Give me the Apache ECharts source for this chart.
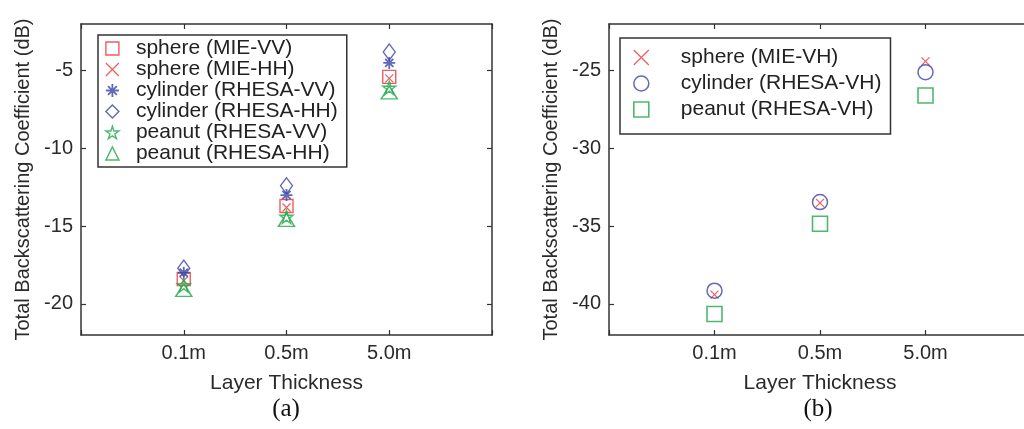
<!DOCTYPE html>
<html><head><meta charset="utf-8">
<script src="https://cdn.jsdelivr.net/npm/echarts@6/dist/echarts.min.js"></script>
<style>html,body{margin:0;padding:0;background:#fff}#c{width:1024px;height:429px}</style>
</head><body><div id="c"></div>
<script>
// ---- data ----
const categories = ['0.1m', '0.5m', '5.0m'];
const yTicksA = [-20, -15, -10, -5];
const yTicksB = [-40, -35, -30, -25];
const sphereVV   = [-18.4, -13.7, -5.4];
const sphereHH   = [-18.5, -13.8, -5.5];
const cylinderVV = [-18.0, -13.0, -4.5];
const cylinderHH = [-17.7, -12.4, -3.8];
const peanutVV   = [-18.8, -14.4, -6.1];
const peanutHH   = [-19.1, -14.6, -6.4];
const sphereVH   = [-39.4, -33.5, -24.4];
const cylinderVH = [-39.15, -33.45, -25.1];
const peanutVH   = [-40.65, -34.85, -26.6];

const RED = '#e6353b', BLUE = '#3a44a6', GREEN = '#1fa84a';
const SYM = {
  x: 'path://M0,0L10,10M10,0L0,10',
  ast: 'path://M5,0L5,10M0,5L10,5M1.6,1.6L8.4,8.4M8.4,1.6L1.6,8.4',
  star: 'path://M50,0L61.23,34.55L97.55,34.55L68.16,55.9L79.39,90.45L50,69.1L20.61,90.45L31.84,55.9L2.45,34.55L38.77,34.55Z'
};
const FONT = 'Liberation Sans, Arial, sans-serif';
const TXT = '#2a2a2a';

function toPts(arr) { return arr.map((v, i) => [i + 1, v]); }
function style(c, w) { return { color: 'rgba(0,0,0,0)', borderColor: c, borderWidth: w }; }
function ser(name, arr, idx, symbol, size, c, w) {
  return { type: 'scatter', name, xAxisIndex: idx, yAxisIndex: idx, data: toPts(arr),
    symbol, symbolSize: size, itemStyle: style(c, w), emphasis: { disabled: true } };
}
const left = [
  ['sphere (MIE-VV)', sphereVV, 'rect', 13, RED, 1.4],
  ['sphere (MIE-HH)', sphereHH, SYM.x, 8, RED, 1.2],
  ['cylinder (RHESA-VV)', cylinderVV, SYM.ast, 12, BLUE, 1.8],
  ['cylinder (RHESA-HH)', cylinderHH, 'diamond', [12, 16], BLUE, 1.4],
  ['peanut (RHESA-VV)', peanutVV, SYM.star, 13, GREEN, 1.4],
  ['peanut (RHESA-HH)', peanutHH, 'triangle', [16, 13], GREEN, 1.5]
];
const right = [
  ['sphere (MIE-VH)', sphereVH, SYM.x, 8, RED, 1.2],
  ['cylinder (RHESA-VH)', cylinderVH, 'circle', 15, BLUE, 1.5],
  ['peanut (RHESA-VH)', peanutVH, 'rect', 15, GREEN, 1.6]
];
const series = [];
left.forEach(s => series.push(ser(s[0], s[1], 0, s[2], s[3], s[4], s[5])));
right.forEach(s => series.push(ser(s[0], s[1], 2, s[2], s[3], s[4], s[5])));

function legendData(list) {
  return list.map(s => ({ name: s[0], icon: s[2], itemStyle: style(s[4], s[5]) }));
}
const axisLine = { show: true, onZero: false, lineStyle: { color: '#333', width: 1.5 } };
function xAx(grid, main) {
  return { type: 'value', gridIndex: grid, position: main ? 'bottom' : 'top', min: 0, max: 4, interval: 1,
    axisLine, splitLine: { show: false },
    axisTick: { show: true, inside: true, length: 5, lineStyle: { color: '#333', width: 1.2 } },
    axisLabel: { show: main, margin: 8, color: TXT, fontSize: 20, fontFamily: FONT,
      formatter: v => categories[v - 1] || '' },
    name: main ? 'Layer Thickness' : '', nameLocation: 'middle', nameGap: 38,
    nameTextStyle: { color: TXT, fontSize: 21, fontFamily: FONT } };
}
function yAx(grid, main, ticks, mn, mx) {
  return { type: 'value', gridIndex: grid, position: main ? 'left' : 'right', min: mn, max: mx,
    axisLine, splitLine: { show: false },
    axisTick: { show: true, inside: true, length: 5, customValues: ticks, lineStyle: { color: '#333', width: 1.2 } },
    axisLabel: { show: main, margin: 8, color: TXT, fontSize: 20, fontFamily: FONT, customValues: ticks },
    name: main ? 'Total Backscattering Coefficient (dB)' : '', nameLocation: 'middle', nameGap: 48,
    nameTextStyle: { color: TXT, fontSize: 20, fontFamily: FONT } };
}
const chart = echarts.init(document.getElementById('c'), null, { renderer: 'canvas' });
chart.setOption({
  animation: false,
  backgroundColor: '#fff',
  grid: [
    { left: 81, top: 24, width: 411, height: 311, outerBoundsMode: 'none', containLabel: false },
    { left: 609, top: 24, width: 422, height: 311, outerBoundsMode: 'none', containLabel: false }
  ],
  xAxis: [xAx(0, true), xAx(0, false), xAx(1, true), xAx(1, false)],
  yAxis: [yAx(0, true, yTicksA, -22, -2), yAx(0, false, yTicksA, -22, -2), yAx(1, true, yTicksB, -42, -22), yAx(1, false, yTicksB, -42, -22)],
  legend: [
    { left: 98, top: 35, orient: 'vertical', selectedMode: false, data: legendData(left),
      itemWidth: 13, itemHeight: 13, itemGap: 0, padding: [3, 9, 3, 7],
      borderColor: '#333', borderWidth: 1.5, backgroundColor: '#fff',
      textStyle: { fontSize: 21, fontFamily: FONT, color: '#222', lineHeight: 21, padding: [0, 0, 0, 12] } },
    { left: 620, top: 38, orient: 'vertical', selectedMode: false, data: legendData(right),
      itemWidth: 15, itemHeight: 15, itemGap: 5, padding: [9, 9, 14, 13],
      borderColor: '#333', borderWidth: 1.5, backgroundColor: '#fff',
      textStyle: { fontSize: 21, fontFamily: FONT, color: '#222', lineHeight: 21, padding: [0, 0, 0, 27] } }
  ],
  graphic: [
    { type: 'text', style: { text: '(a)', x: 286, y: 409, align: 'center', verticalAlign: 'middle',
      font: '25px "Liberation Serif", "Times New Roman", serif', fill: '#111' } },
    { type: 'text', style: { text: '(b)', x: 818, y: 409, align: 'center', verticalAlign: 'middle',
      font: '25px "Liberation Serif", "Times New Roman", serif', fill: '#111' } }
  ],
  series
});
</script></body></html>
